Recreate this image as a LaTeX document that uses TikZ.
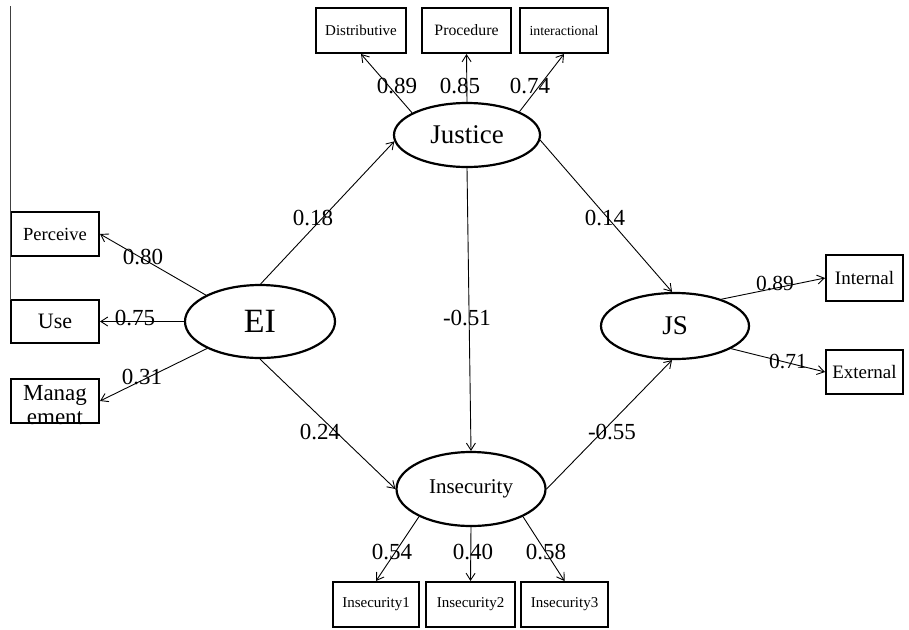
\documentclass[tikz,border=0pt]{standalone}
\usepackage{fontspec}
\setmainfont{Liberation Serif}
\usetikzlibrary{arrows.meta,shapes.geometric}
\newcommand{\fs}[1]{\fontsize{#1}{#1}\selectfont}
\tikzset{
  box/.style={draw, line width=2pt, rectangle, inner sep=0pt, minimum width=88pt, minimum height=44pt},
  lat/.style={draw, line width=2.2pt, ellipse, inner sep=0pt},
  con/.style={line width=0.9pt, -{Straight Barb[length=7pt,width=9pt]}},
  num/.style={inner sep=0pt, font=\fs{23}},
  small/.style={font=\fs{15}},
}
\begin{document}
\begin{tikzpicture}[x=1pt,y=-1pt]
\useasboundingbox (0,0) rectangle (909,629);
\fill[white] (0,0) rectangle (909,629);

% latent variables
\node[lat, minimum width=150pt, minimum height=73pt, font=\fs{34}] (ei) at (260,321.5) {EI};
\node[lat, minimum width=146pt, minimum height=64pt, font=\fs{27}] (just) at (467,135) {Justice};
\node[lat, minimum width=148pt, minimum height=66pt, font=\fs{27}] (js) at (675,326) {JS};
\node[lat, minimum width=149pt, minimum height=74pt, font=\fs{21}] (ins) at (471,489) {Insecurity};

% indicators
\node[box, font=\fs{18.5}] (per) at (55,234) {Perceive};
\node[box, minimum height=43pt, font=\fs{22}] (use) at (55,321.5) {Use};
\node[box] (man) at (55,401) {};
\node[inner sep=0pt, align=center, font=\fs{23}, text depth=0pt] (mant) at (55,405) {Manag\\[1pt]ement};

\node[box, minimum width=90pt, minimum height=45pt, small] (dist) at (361,30.5) {Distributive};
\node[box, minimum width=89pt, minimum height=45pt, font=\fs{15.8}] (proc) at (466.5,30.5) {Procedure};
\node[box, minimum width=88pt, minimum height=45pt, font=\fs{13.8}] (inter) at (564,30.5) {interactional};

\node[box, minimum width=77pt, minimum height=46pt, font=\fs{19}] (int) at (864.5,278) {Internal};
\node[box, minimum width=77pt, minimum height=44pt, font=\fs{19}] (ext) at (864.5,372) {External};

\node[box, minimum width=86pt, minimum height=45pt, small] (in1) at (376,604.5) {Insecurity1};
\node[box, minimum width=89pt, minimum height=45pt, small] (in2) at (470.5,604.5) {Insecurity2};
\node[box, minimum width=87pt, minimum height=45pt, small] (in3) at (564.5,604.5) {Insecurity3};

% left vertical line
\coordinate (vtop) at (10.5,6);
\coordinate (vbot) at (10.5,300);
\draw[line width=1.2pt, black!75] (vtop) -- (vbot);

% connectors
\draw[con] (ei.154) -- (per.east);
\draw[con] (ei.west) -- (use.east);
\draw[con] (ei.207) -- (man.east);
\draw[con] (ei.89) -- (just.185);
\draw[con] (ei.south) -- (ins.west);
\draw[con] (just.356) -- (js.95);
\draw[con] (ins.east) -- (js.265);
\draw[con] (just.south) -- (ins.north);
\draw[con] (just.158) -- (dist.south);
\draw[con] (just.north) -- (proc.south);
\draw[con] (just.24) -- (inter.south);
\draw[con] (js.30) -- (int.west);
\draw[con] (js.338) -- (ext.west);
\draw[con] (ins.208) -- (in1.north);
\draw[con] (ins.south) -- (in2.north);
\draw[con] (ins.332) -- (in3.north);

% coefficients
\node[num] (l1) at (397,86) {0.89};
\node[num] (l2) at (460,86) {0.85};
\node[num] (l3) at (530,86) {0.74};
\node[num] (l4) at (313,218) {0.18};
\node[num] (l5) at (605,218) {0.14};
\node[num] (l6) at (467,318) {-0.51};
\node[num] (l7) at (320,432) {0.24};
\node[num] (l8) at (612,432) {-0.55};
\node[num] (l9) at (143,257) {0.80};
\node[num] (l10) at (135,318) {0.75};
\node[num] (l11) at (142,377) {0.31};
\node[num, font=\fs{21.5}] (l12) at (775,283) {0.89};
\node[num, font=\fs{21.5}] (l13) at (788,361) {0.71};
\node[num] (l14) at (392,552) {0.54};
\node[num] (l15) at (473,552) {0.40};
\node[num] (l16) at (546,552) {0.58};
\end{tikzpicture}
\end{document}
